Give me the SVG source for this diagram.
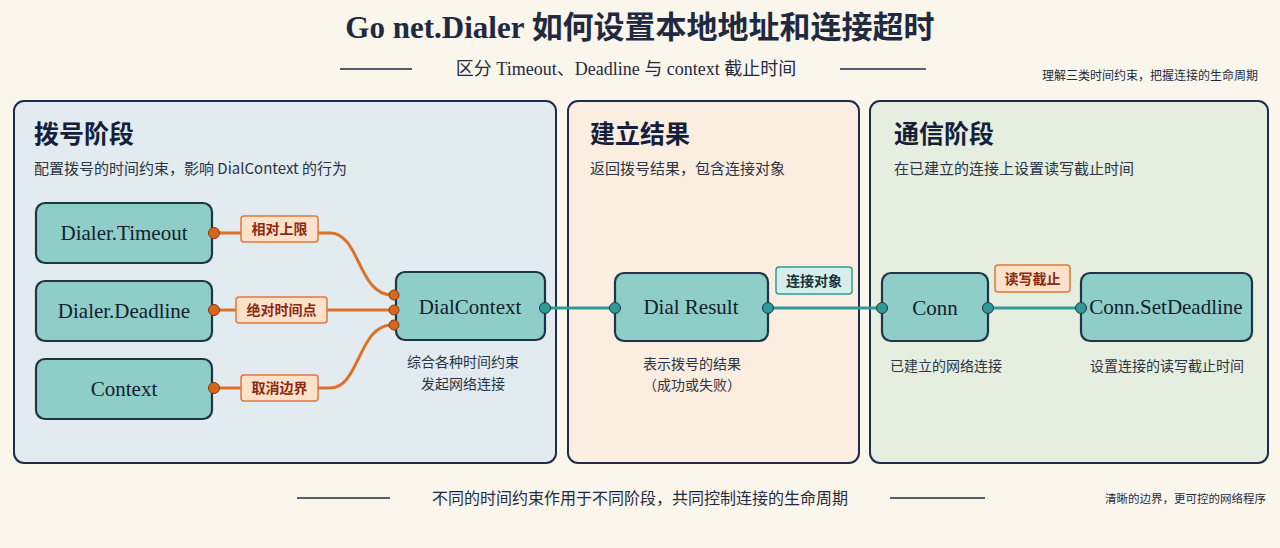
<svg xmlns="http://www.w3.org/2000/svg" width="1280" height="548" viewBox="0 0 1280 548">
<style>
text{font-family:"Liberation Serif","Noto Sans CJK SC",serif;fill:#1f2a40}
.cj{font-family:"Noto Sans CJK SC",sans-serif}
.node{fill:#8ecdc8;stroke:#1f3446;stroke-width:2.2}
.nt{font-size:21px;text-anchor:middle;fill:#14202c}
.lb{fill:#fde1cb;stroke:#e0773a;stroke-width:1.5}
.lt{font-family:"Noto Sans CJK SC",sans-serif;font-size:14px;font-weight:bold;fill:#8a2a10;text-anchor:middle}
.or{fill:none;stroke:#dc7128;stroke-width:3}
.te{fill:none;stroke:#2f9a98;stroke-width:3}
.od{fill:#d9661e;stroke:#8a3a10;stroke-width:1}
.td{fill:#2f9a98;stroke:#1f3446;stroke-width:1}
.cap{font-family:"Noto Sans CJK SC",sans-serif;font-size:14px;text-anchor:middle;fill:#2a3444}
.pt{font-family:"Noto Sans CJK SC",sans-serif;font-size:25px;font-weight:bold;fill:#14203a}
.ps{font-family:"Noto Sans CJK SC",sans-serif;font-size:15px;fill:#2a3444}
.panel{stroke:#1f2d4a;stroke-width:2}
</style>
<rect width="1280" height="548" fill="#fbf6ec"/>
<text x="640" y="38" font-size="31" font-weight="bold" text-anchor="middle" fill="#16254a">Go net.Dialer <tspan class="cj">如何设置本地地址和连接超时</tspan></text>
<g stroke="#1f2a40" stroke-width="1.3"><line x1="340" y1="69" x2="412" y2="69"/><line x1="840" y1="69" x2="926" y2="69"/><line x1="297" y1="498" x2="390" y2="498"/><line x1="890" y1="498" x2="985" y2="498"/></g>
<text x="626" y="75" font-size="18" text-anchor="middle"><tspan class="cj">区分</tspan> Timeout<tspan class="cj">、</tspan>Deadline <tspan class="cj">与</tspan> context <tspan class="cj">截止时间</tspan></text>
<text x="1258" y="80" class="cj" font-size="12" text-anchor="end">理解三类时间约束，把握连接的生命周期</text>
<text x="640" y="504" class="cj" font-size="16" text-anchor="middle">不同的时间约束作用于不同阶段，共同控制连接的生命周期</text>
<text x="1266" y="503" class="cj" font-size="11.5" text-anchor="end">清晰的边界，更可控的网络程序</text>

<g id="panel-dial"><rect class="panel" x="14" y="101" width="542" height="362" rx="10" fill="#e2ebef"/>
<text class="pt" x="34" y="143">拨号阶段</text><text class="ps" x="34" y="174">配置拨号的时间约束，影响 DialContext 的行为</text></g>
<g id="panel-result"><rect class="panel" x="568" y="101" width="291" height="362" rx="10" fill="#fbeddf"/>
<text class="pt" x="590" y="143">建立结果</text><text class="ps" x="590" y="174">返回拨号结果，包含连接对象</text></g>
<g id="panel-comm"><rect class="panel" x="870" y="101" width="398" height="362" rx="10" fill="#e5eedf"/>
<text class="pt" x="894" y="143">通信阶段</text><text class="ps" x="894" y="174">在已建立的连接上设置读写截止时间</text></g>

<g id="n-timeout"><rect class="node" x="36" y="203" width="176" height="60" rx="9"/><text class="nt" x="124" y="240">Dialer.Timeout</text></g>
<g id="n-deadline"><rect class="node" x="36" y="281" width="176" height="60" rx="9"/><text class="nt" x="124" y="318">Dialer.Deadline</text></g>
<g id="n-context"><rect class="node" x="36" y="359" width="176" height="60" rx="9"/><text class="nt" x="124" y="396">Context</text></g>
<g id="n-dialcontext"><rect class="node" x="396" y="272" width="149" height="68" rx="9"/><text class="nt" x="470" y="314">DialContext</text>
<text class="cap" x="463" y="367">综合各种时间约束</text><text class="cap" x="463" y="389">发起网络连接</text></g>
<g id="n-result"><rect class="node" x="615" y="273" width="153" height="68" rx="9"/><text class="nt" x="691" y="314">Dial Result</text>
<text class="cap" x="692" y="369">表示拨号的结果</text><text class="cap" x="692" y="390">（成功或失败）</text></g>
<g id="n-conn"><rect class="node" x="882" y="273" width="106" height="68" rx="9"/><text class="nt" x="935" y="315">Conn</text>
<text class="cap" x="946" y="371">已建立的网络连接</text></g>
<g id="n-setdeadline"><rect class="node" x="1081" y="273" width="171" height="68" rx="9"/><text class="nt" x="1166" y="314">Conn.SetDeadline</text>
<text class="cap" x="1167" y="371">设置连接的读写截止时间</text></g>

<g id="connectors">
<path class="or" d="M214,233 H330 C360,233 358,295 392,295"/>
<path class="or" d="M214,310 H392"/>
<path class="or" d="M214,388 H330 C360,388 358,325 392,325"/>
<path class="te" d="M545,308 H615 M768,308 H882 M988,308 H1081"/>
<circle class="od" cx="214" cy="233" r="5.5"/><circle class="od" cx="214" cy="310" r="5.5"/><circle class="od" cx="214" cy="388" r="5.5"/>
<circle class="od" cx="394" cy="295" r="5"/><circle class="od" cx="394" cy="310" r="5"/><circle class="od" cx="394" cy="325" r="5"/>
<circle class="td" cx="545" cy="308" r="5.5"/><circle class="td" cx="615" cy="308" r="5.5"/><circle class="td" cx="768" cy="308" r="5.5"/><circle class="td" cx="882" cy="308" r="5.5"/><circle class="td" cx="988" cy="308" r="5.5"/><circle class="td" cx="1081" cy="308" r="5.5"/>
<g id="lbl1"><rect class="lb" x="241" y="216" width="77" height="26" rx="3"/><text class="lt" x="279.5" y="234">相对上限</text></g>
<g id="lbl2"><rect class="lb" x="236" y="297" width="91" height="26" rx="3"/><text class="lt" x="281.5" y="315">绝对时间点</text></g>
<g id="lbl3"><rect class="lb" x="241" y="375" width="77" height="26" rx="3"/><text class="lt" x="279.5" y="393">取消边界</text></g>
<g id="lbl4"><rect x="776" y="267" width="76" height="27" rx="3" fill="#d6eeea" stroke="#2f9a98" stroke-width="1.5"/><text class="lt" x="814" y="286" style="fill:#16323c">连接对象</text></g>
<g id="lbl5"><rect class="lb" x="995" y="265" width="75" height="27" rx="3"/><text class="lt" x="1032.5" y="284">读写截止</text></g>
</g>
</svg>
